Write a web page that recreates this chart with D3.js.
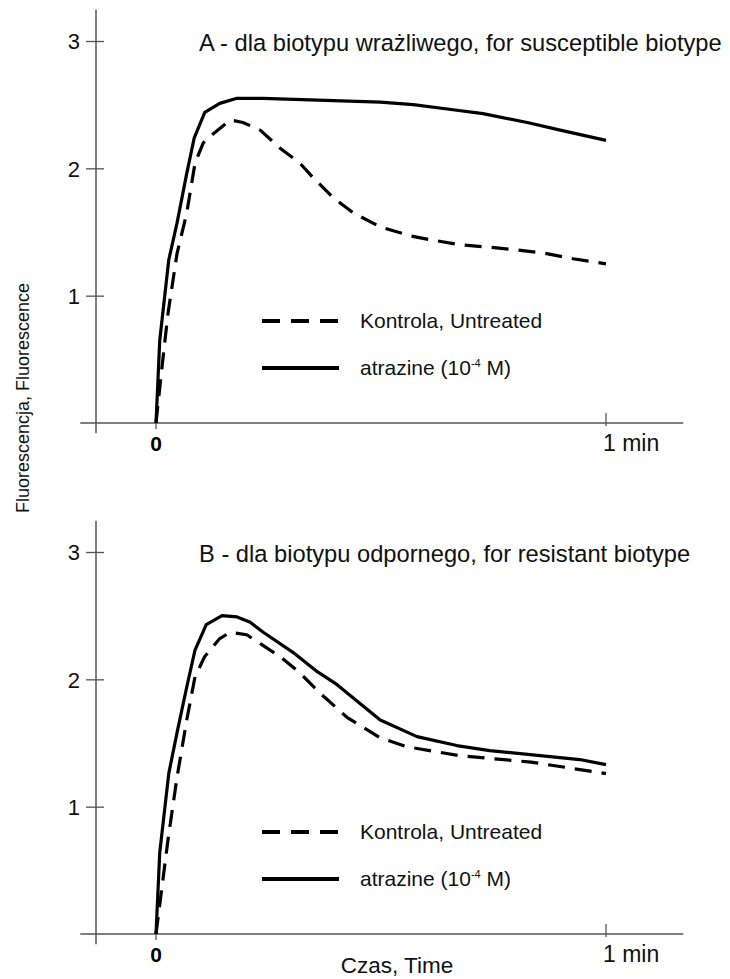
<!DOCTYPE html>
<html>
<head>
<meta charset="utf-8">
<script src="https://cdn.jsdelivr.net/npm/d3@7"></script>
<style>
  html, body { margin: 0; padding: 0; background: #fff; }
  svg { display: block; font-family: "Liberation Sans", Arial, Helvetica, sans-serif; }
</style>
</head>
<body>
<svg id="chart" width="730" height="979"></svg>
<script>
// Time in seconds, fluorescence in relative units.
const timeA_kontrola = [0, 0.8, 1.6, 2.8, 4.1, 5.2, 6.3, 7.6, 9.9, 11.6, 13.9, 16.5, 19.2, 20.9, 23.6, 26.3, 29.9, 33.9, 36.5, 40.5, 44.5, 48.1, 52.1, 55.6, 60];
const valA_kontrola  = [0, 0.44, 0.86, 1.33, 1.65, 2.04, 2.20, 2.27, 2.38, 2.36, 2.30, 2.16, 2.04, 1.93, 1.77, 1.65, 1.54, 1.47, 1.44, 1.40, 1.38, 1.36, 1.33, 1.29, 1.25];

const timeA_atrazine = [0, 0.5, 1.7, 2.8, 4.1, 5.1, 6.5, 8.5, 10.8, 14.3, 29.9, 34.3, 39.6, 43.6, 49.5, 53.9, 60];
const valA_atrazine  = [0, 0.65, 1.28, 1.57, 1.96, 2.24, 2.44, 2.51, 2.55, 2.55, 2.52, 2.50, 2.46, 2.43, 2.36, 2.30, 2.22];

const timeB_kontrola = [0, 0.8, 1.6, 2.8, 4.1, 5.2, 6.5, 8.5, 9.9, 12.1, 13.9, 16.5, 19.2, 21.9, 25.5, 29.9, 33.5, 40.5, 50.0, 60];
const valB_kontrola  = [0, 0.37, 0.74, 1.23, 1.68, 2.02, 2.18, 2.32, 2.37, 2.35, 2.28, 2.18, 2.05, 1.89, 1.70, 1.54, 1.47, 1.40, 1.35, 1.26];

const timeB_atrazine = [0, 0.5, 1.7, 2.8, 4.1, 5.2, 6.7, 8.8, 10.8, 12.5, 14.3, 18.3, 21.5, 24.1, 27.2, 29.9, 34.8, 40.1, 44.5, 56.5, 60];
const valB_atrazine  = [0, 0.64, 1.26, 1.58, 1.94, 2.23, 2.43, 2.50, 2.49, 2.45, 2.37, 2.21, 2.06, 1.96, 1.81, 1.68, 1.55, 1.48, 1.44, 1.37, 1.33];

const yTicks = [1, 2, 3];
const xTickLabels = ["0", "1 min"];
const xTickValues = [0, 60];

const panelTitles = [
  "A - dla biotypu wrażliwego, for susceptible biotype",
  "B - dla biotypu odpornego, for resistant biotype"
];
const legendKontrola = "Kontrola, Untreated";
const xAxisTitle = "Czas, Time";
const yAxisTitle = "Fluorescencja, Fluorescence";

const svg = d3.select("#chart");
const axisColor = "#555";
const x = d3.scaleLinear().domain([0, 60]).range([156, 606]);

const panels = [
  { title: panelTitles[0], top: 41, bottom: 423,
    kontrola: timeA_kontrola.map((t, i) => [t, valA_kontrola[i]]),
    atrazine: timeA_atrazine.map((t, i) => [t, valA_atrazine[i]]) },
  { title: panelTitles[1], top: 552, bottom: 934,
    kontrola: timeB_kontrola.map((t, i) => [t, valB_kontrola[i]]),
    atrazine: timeB_atrazine.map((t, i) => [t, valB_atrazine[i]]) }
];

panels.forEach((p, pi) => {
  const y = d3.scaleLinear().domain([0, 3]).range([p.bottom, p.top]);
  const g = svg.append("g");

  // y axis: long spine plus ticks crossing it
  g.append("line")
    .attr("x1", x(-8)).attr("x2", x(-8))
    .attr("y1", y(3.245)).attr("y2", y(-0.08))
    .attr("stroke", axisColor).attr("stroke-width", 1.5);
  const yAxis = d3.axisLeft(y).tickValues(yTicks).tickFormat(d3.format("d"))
    .tickSize(10).tickPadding(6);
  const ya = g.append("g").attr("transform", `translate(${x(-8)},0)`).call(yAxis);
  ya.select(".domain").remove();
  ya.selectAll(".tick line").attr("x1", -10).attr("x2", 8)
    .attr("stroke", axisColor).attr("stroke-width", 1.3);
  ya.selectAll(".tick text")
    .style("font-family", '"Liberation Sans", Arial, sans-serif')
    .style("font-size", "22px").attr("fill", "#111").attr("dy", "0.36em");

  // x axis
  g.append("line")
    .attr("x1", x(-10.1)).attr("x2", x(70.3))
    .attr("y1", y(0)).attr("y2", y(0))
    .attr("stroke", axisColor).attr("stroke-width", 1.5);
  g.append("line")
    .attr("x1", x(60)).attr("x2", x(60))
    .attr("y1", y(0) - 10).attr("y2", y(0) + 3)
    .attr("stroke", axisColor).attr("stroke-width", 1.3);
  g.append("line")
    .attr("x1", x(0)).attr("x2", x(0))
    .attr("y1", y(0)).attr("y2", y(0) + 6)
    .attr("stroke", axisColor).attr("stroke-width", 1.3);
  g.append("text")
    .attr("x", x(xTickValues[0])).attr("y", y(0) + 28)
    .attr("text-anchor", "middle")
    .style("font-family", '"Liberation Sans Narrow", "Arial Narrow", "Liberation Sans", sans-serif')
    .style("font-weight", "bold").style("font-size", "21px")
    .text(xTickLabels[0]);
  g.append("text")
    .attr("x", x(xTickValues[1]) - 3).attr("y", y(0) + 28)
    .style("font-size", "23px").attr("fill", "#111")
    .text(xTickLabels[1]);

  // panel title
  g.append("text")
    .attr("x", 199).attr("y", y(3) + 10)
    .style("font-size", "23.7px").attr("fill", "#111")
    .text(p.title);

  // curves
  const line = d3.line().x(d => x(d[0])).y(d => y(d[1])).curve(d3.curveLinear);
  g.append("path").datum(p.kontrola)
    .attr("d", line).attr("fill", "none").attr("stroke", "#000")
    .attr("stroke-width", 3.2).attr("stroke-dasharray", "17,10")
    .attr("stroke-linejoin", "round");
  g.append("path").datum(p.atrazine)
    .attr("d", line).attr("fill", "none").attr("stroke", "#000")
    .attr("stroke-width", 3.2).attr("stroke-linejoin", "round");

  // legend
  const lg = g.append("g");
  const ly1 = y(0) - 102, ly2 = y(0) - 55;
  lg.append("line").attr("x1", 262).attr("x2", 339).attr("y1", ly1).attr("y2", ly1)
    .attr("stroke", "#000").attr("stroke-width", 4).attr("stroke-dasharray", "18,11");
  lg.append("line").attr("x1", 262).attr("x2", 339).attr("y1", ly2).attr("y2", ly2)
    .attr("stroke", "#000").attr("stroke-width", 4);
  lg.append("text").attr("x", 360).attr("y", ly1 + 7)
    .style("font-size", "21px").attr("fill", "#111").text(legendKontrola);
  const at = lg.append("text").attr("x", 360).attr("y", ly2 + 7)
    .style("font-size", "21px").attr("fill", "#111");
  at.append("tspan").text("atrazine (10");
  at.append("tspan").attr("dy", -8).style("font-size", "11px").text("-4");
  at.append("tspan").attr("dy", 8).text(" M)");
});

// shared axis titles
svg.append("text")
  .attr("x", 397).attr("y", 973)
  .attr("text-anchor", "middle")
  .style("font-size", "22.5px").attr("fill", "#111")
  .text(xAxisTitle);

svg.append("text")
  .attr("transform", "translate(29,398) rotate(-90)")
  .attr("text-anchor", "middle")
  .style("font-size", "18px").attr("fill", "#111")
  .text(yAxisTitle);
</script>
</body>
</html>
